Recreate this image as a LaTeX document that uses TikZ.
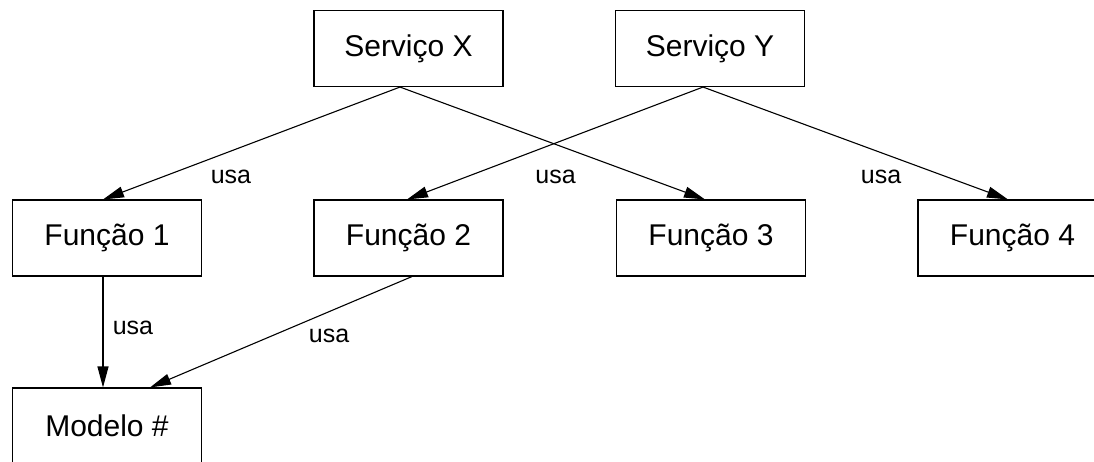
\documentclass[tikz,border=0pt]{standalone}
\usepackage{fontspec}
\setmainfont{Liberation Sans}
\usetikzlibrary{arrows.meta}
\tikzset{
  box/.style={draw=black, line width=1.1pt, minimum width=189pt, minimum height=76pt, inner sep=0pt,
    font=\fontsize{30}{36}\selectfont},
  arr/.style={line width=1.1pt, -{Triangle[length=21pt,width=11pt]}},
  lbl/.style={inner sep=0pt, font=\fontsize{25}{30}\selectfont}
}
\begin{document}
\begin{tikzpicture}[x=1pt,y=-1pt]
\useasboundingbox (0,0) rectangle (1094,461);
\clip (0,0) rectangle (1094,461);
\node[box] (SX) at (408.5,48.5) {Serviço X};
\node[box] (SY) at (710,48.5) {Serviço Y};
\node[box] (F1) at (107,238) {Função 1};
\node[box] (F2) at (408.5,238) {Função 2};
\node[box] (F3) at (711,238) {Função 3};
\node[box] (F4) at (1012.5,238) {Função 4};
\node[box] (M) at (107,426) {Modelo \#};
\draw[arr] ([xshift=-8.5pt]SX.south) -- ([xshift=-4pt]F1.north);
\draw[arr] ([xshift=-8.5pt]SX.south) -- ([xshift=-6pt]F3.north);
\draw[arr] ([xshift=-7pt]SY.south) -- ([xshift=-1.5pt]F2.north);
\draw[arr] ([xshift=-7pt]SY.south) -- ([xshift=-4.5pt]F4.north);
\draw[arr] ([xshift=-4pt]F1.south) -- ([xshift=-4pt]M.north);
\draw[arr] ([xshift=3.5pt]F2.south) -- ([xshift=43pt]M.north);
\node[lbl] (l1) at (231,177) {usa};
\node[lbl] (l2) at (555.5,177) {usa};
\node[lbl] (l3) at (881,177) {usa};
\node[lbl] (l4) at (133,328) {usa};
\node[lbl] (l5) at (329,336) {usa};
\end{tikzpicture}
\end{document}
